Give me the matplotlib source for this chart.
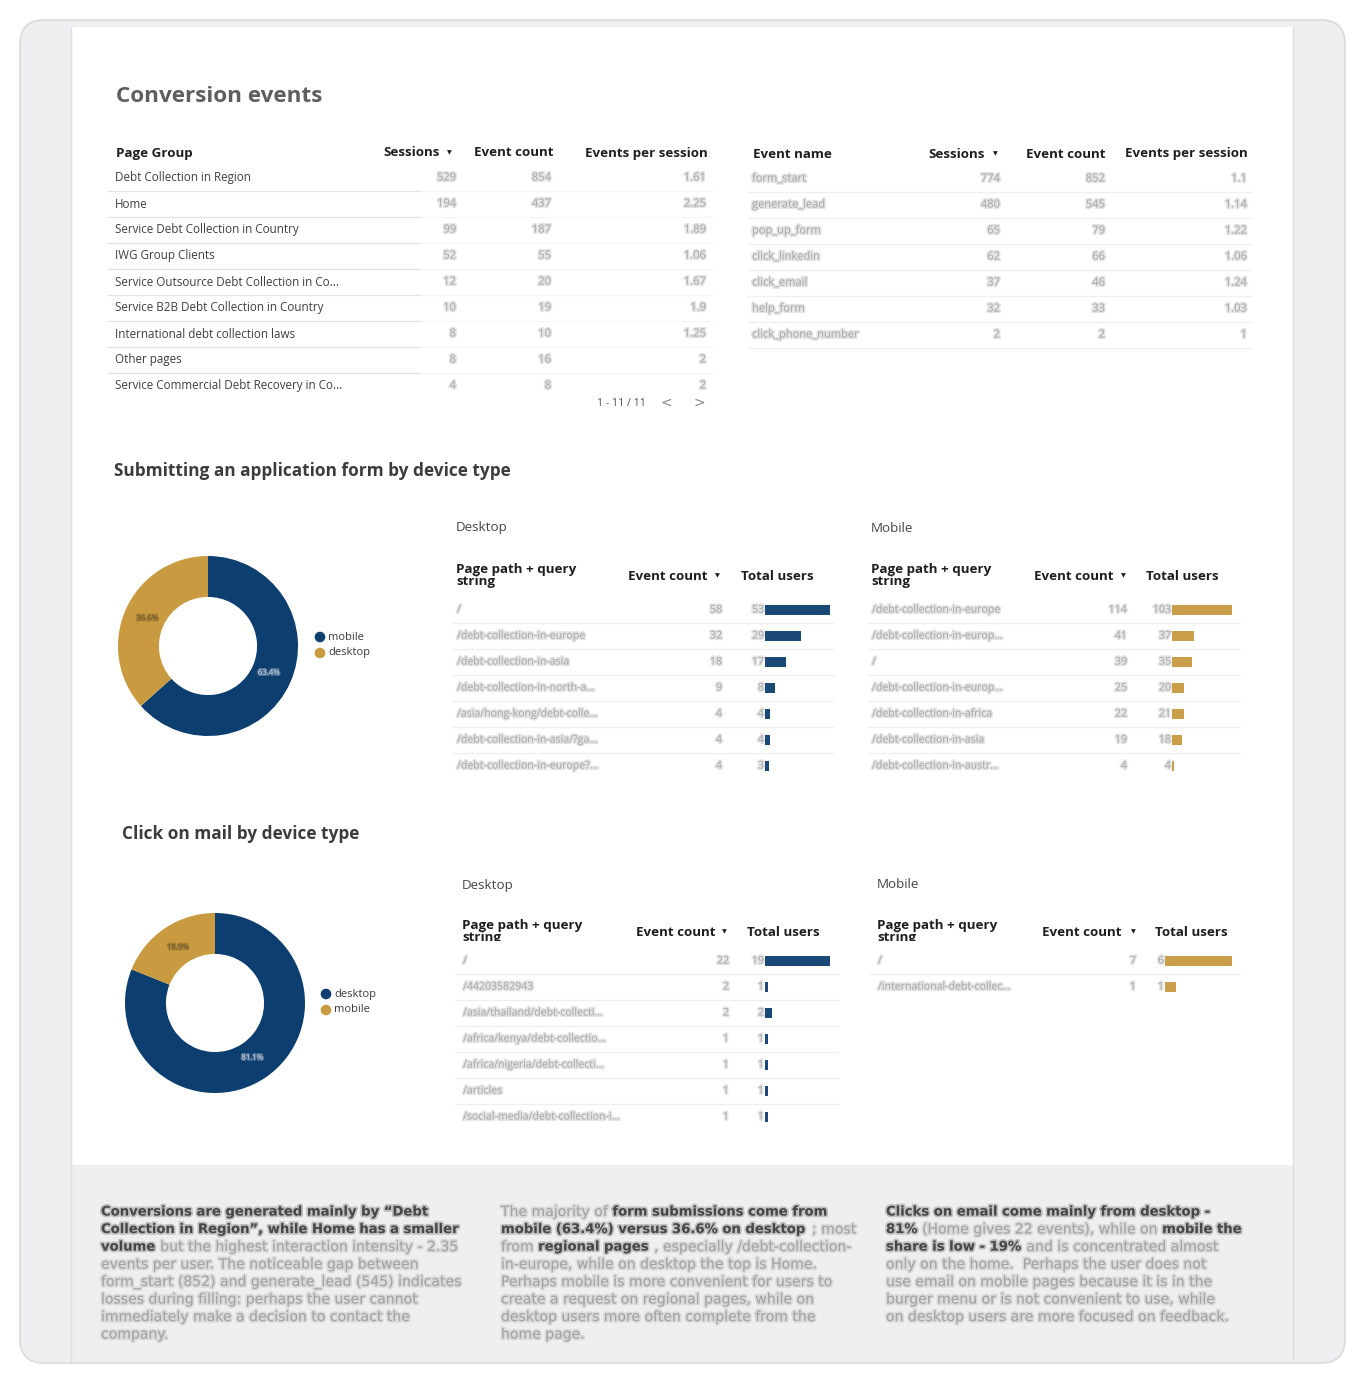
import matplotlib
matplotlib.use("Agg")
import matplotlib.pyplot as plt
from matplotlib.patches import FancyBboxPatch, Rectangle, Circle
import matplotlib.patheffects as pe
from matplotlib.transforms import Bbox

plt.rcParams['font.family'] = ['Open Sans', 'DejaVu Sans']

# ---------------- data ----------------
page_groups = ["Debt Collection in Region", "Home", "Service Debt Collection in Country",
               "IWG Group Clients", "Service Outsource Debt Collection in Co...",
               "Service B2B Debt Collection in Country", "International debt collection laws",
               "Other pages", "Service Commercial Debt Recovery in Co..."]
pg_sessions = [529, 194, 99, 52, 12, 10, 8, 8, 4]
pg_events = [854, 437, 187, 55, 20, 19, 10, 16, 8]
pg_eps = [1.61, 2.25, 1.89, 1.06, 1.67, 1.9, 1.25, 2, 2]

event_names = ["form_start", "generate_lead", "pop_up_form", "click_linkedin",
               "click_email", "help_form", "click_phone_number"]
ev_sessions = [774, 480, 65, 62, 37, 32, 2]
ev_events = [852, 545, 79, 66, 46, 33, 2]
ev_eps = [1.1, 1.14, 1.22, 1.06, 1.24, 1.03, 1]

form_device_labels = ["mobile", "desktop"]
form_device_share = [63.4, 36.6]
mail_device_labels = ["desktop", "mobile"]
mail_device_share = [81.1, 18.9]

form_desk_paths = ["/", "/debt-collection-in-europe", "/debt-collection-in-asia",
                   "/debt-collection-in-north-a...", "/asia/hong-kong/debt-colle...",
                   "/debt-collection-in-asia/?ga...", "/debt-collection-in-europe?..."]
form_desk_events = [58, 32, 18, 9, 4, 4, 4]
form_desk_users = [53, 29, 17, 8, 4, 4, 3]

form_mob_paths = ["/debt-collection-in-europe", "/debt-collection-in-europ...", "/",
                  "/debt-collection-in-europ...", "/debt-collection-in-africa",
                  "/debt-collection-in-asia", "/debt-collection-in-austr..."]
form_mob_events = [114, 41, 39, 25, 22, 19, 4]
form_mob_users = [103, 37, 35, 20, 21, 18, 4]

mail_desk_paths = ["/", "/44203582943", "/asia/thailand/debt-collecti...",
                   "/africa/kenya/debt-collectio...", "/africa/nigeria/debt-collecti...",
                   "/articles", "/social-media/debt-collection-i..."]
mail_desk_events = [22, 2, 2, 1, 1, 1, 1]
mail_desk_users = [19, 1, 2, 1, 1, 1, 1]

mail_mob_paths = ["/", "/international-debt-collec..."]
mail_mob_events = [7, 1]
mail_mob_users = [6, 1]

NAVY = "#0d3e70"
GOLD = "#c99a3f"

W, H = 1368, 1389
fig = plt.figure(figsize=(W / 100, H / 100), dpi=100)
ax = fig.add_axes([0, 0, 1, 1])
ax.set_xlim(0, W)
ax.set_ylim(H, 0)
ax.axis("off")
renderer = fig.canvas.get_renderer()

# ---------------- frame ----------------
ax.add_patch(FancyBboxPatch((20, 20), 1325, 1343, boxstyle="round,pad=0,rounding_size=24",
                            fc="#efeef1", ec="#dad9dd", lw=1.2, zorder=0))
ax.add_patch(Rectangle((72, 27), 1221, 1138, fc="white", ec="none", zorder=0.5))
ax.plot([71, 71], [27, 1362], color="#dedde1", lw=1, zorder=0.6)
ax.plot([1293, 1293], [27, 1362], color="#dedde1", lw=1, zorder=0.6)

HEAD = "#1e1e1e"
BODY = "#3f3f3f"
BLUR = "#ababab"
blur_fx = [pe.withStroke(linewidth=2.4, foreground="#c4c4c4", alpha=0.45)]


def txt(x, y, s, size, color=BODY, weight="normal", ha="left", fx=None, **kw):
    return ax.text(x, y, s, fontsize=size, color=color, fontweight=weight, ha=ha,
                   va="center", path_effects=fx, zorder=3, **kw)


def btxt(x, y, s, size=8.0, ha="left", color=BLUR):
    return txt(x, y, s, size, color=color, ha=ha, fx=blur_fx)


def hline(x0, x1, y, color="#e6e6e6", lw=0.9):
    ax.plot([x0, x1], [y, y], color=color, lw=lw, zorder=1)


def sort_tri(x, y):
    ax.text(x, y, "▼", fontsize=4.5, color=HEAD, ha="center", va="center",
            family="DejaVu Sans", zorder=3)


def fmt(v):
    return f"{v:g}"

# ---------------- title ----------------
txt(116, 97, "Conversion events", 16.2, color="#5e5e5e", weight="bold")

# ---------------- table 1 ----------------
HS = 9.6
txt(116, 153, "Page Group", HS, HEAD, "bold")
txt(440, 153, "Sessions", HS, HEAD, "bold", ha="right")
sort_tri(449, 153)
txt(553, 153, "Event count", HS, HEAD, "bold", ha="right")
txt(708, 153, "Events per session", HS, HEAD, "bold", ha="right")
for i, name in enumerate(page_groups):
    y = 178 + 26 * i
    txt(115, y, name, 8.4, BODY)
    btxt(456, y, str(pg_sessions[i]), ha="right")
    btxt(551, y, str(pg_events[i]), ha="right")
    btxt(706, y, fmt(pg_eps[i]), ha="right")
    if i < len(page_groups) - 1:
        hline(108, 421, y + 13, "#e2e2e2")
        hline(421, 712, y + 13, "#f6f6f6")
txt(621, 404, "1 - 11 / 11", 7.6, "#555555", ha="center")
txt(666, 403, "<", 10, "#8a8a8a", ha="center", family="DejaVu Sans")
txt(699, 403, ">", 10, "#8a8a8a", ha="center", family="DejaVu Sans")

# ---------------- table 2 ----------------
txt(753, 154, "Event name", HS, HEAD, "bold")
txt(985, 154, "Sessions", HS, HEAD, "bold", ha="right")
sort_tri(995, 154)
txt(1106, 154, "Event count", HS, HEAD, "bold", ha="right")
txt(1248, 154, "Events per session", HS, HEAD, "bold", ha="right")
for i, name in enumerate(event_names):
    y = 179 + 26 * i
    btxt(752, y, name)
    btxt(1000, y, str(ev_sessions[i]), ha="right")
    btxt(1105, y, str(ev_events[i]), ha="right")
    btxt(1247, y, fmt(ev_eps[i]), ha="right")
    hline(748, 1252, y + 13, "#efefef")

# ---------------- donuts ----------------

def donut(cx, cy, r, vals, labels, colors, label_colors, legend_x, legend_y):
    a = fig.add_axes([(cx - r) / W, (H - (cy + r)) / H, 2 * r / W, 2 * r / H])
    wedges, _t, autot = a.pie(vals, colors=colors, startangle=90, counterclock=False,
                              wedgeprops=dict(width=0.455, edgecolor="none"),
                              autopct=lambda p: f"{p:.1f}%", pctdistance=0.74,
                              textprops=dict(fontsize=5.6))
    for t, c in zip(autot, label_colors):
        t.set_color(c)
        t.set_path_effects([pe.withStroke(linewidth=1.8, foreground=c, alpha=0.3)])
    a.set_xlim(-1, 1)
    a.set_ylim(-1, 1)
    a.set_aspect("equal")
    a.axis("off")
    for j, lab in enumerate(labels):
        yy = legend_y + 16 * j
        ax.add_patch(Circle((legend_x, yy), 4.6, color=colors[j], zorder=3))
        txt(legend_x + 8, yy, lab, 8.0, "#3a3a3a")


# ---------------- small tables with bars ----------------

def bar_table(x_path, header_y, title_y, title, ec_right, tri_x, tu_left, rows_y,
              paths, events, users, color, bar_x0, bar_len, line_x0, line_x1,
              clip_bottom=None):
    txt(x_path, title_y, title, 9.6, "#454545")
    txt(x_path, header_y - 6.5, "Page path + query", HS, HEAD, "bold")
    t2 = txt(x_path, header_y + 6.0, "string", HS, HEAD, "bold")
    if clip_bottom is not None:
        # clip in display (pixel) coordinates: y_display = H - y
        cb = Bbox([[x_path - 5, H - clip_bottom], [x_path + 200, H - (header_y - 25)]])
        t2.set_clip_box(cb)
        t2.set_clip_on(True)
    txt(ec_right, header_y, "Event count", HS, HEAD, "bold", ha="right")
    sort_tri(tri_x, header_y)
    txt(tu_left, header_y, "Total users", HS, HEAD, "bold")
    n = len(paths)
    for i in range(n):
        y = rows_y + 26 * i
        btxt(x_path + 1, y, paths[i], size=7.6)
        btxt(ec_right + 14, y, str(events[i]), size=7.6, ha="right")
        btxt(bar_x0 - 1, y, str(users[i]), size=7.6, ha="right")
        if i < n - 1:
            hline(line_x0, line_x1, y + 13, "#eeeeee")
    # bars on their own axes
    top = rows_y - 13
    bottom = rows_y + 26 * (n - 1) + 13
    b = fig.add_axes([bar_x0 / W, (H - bottom) / H, bar_len / W, (bottom - top) / H])
    b.barh(range(n), users, height=0.42, color=color, alpha=0.95)
    b.set_xlim(0, max(users))
    b.set_ylim(n - 0.5, -0.5)
    b.axis("off")
    b.patch.set_alpha(0)


# section 2
txt(114, 471, "Submitting an application form by device type", 12.4, "#3c3c3c", "bold")
donut(208, 646, 90, form_device_share, form_device_labels, [NAVY, GOLD],
      ["#d0d6de", "#6a5428"], 320, 637)
bar_table(456, 576, 528, "Desktop", 708, 717, 741, 610, form_desk_paths, form_desk_events,
          form_desk_users, NAVY, 765, 65, 453, 833)
bar_table(871, 576, 528, "Mobile", 1113, 1123, 1146, 610, form_mob_paths, form_mob_events,
          form_mob_users, GOLD, 1172, 60, 868, 1240)

# section 3
txt(122, 834, "Click on mail by device type", 12.4, "#3c3c3c", "bold")
donut(215, 1003, 90, mail_device_share, mail_device_labels, [NAVY, GOLD],
      ["#d0d6de", "#6a5428"], 326, 994)
bar_table(462, 932, 885, "Desktop", 715, 724, 747, 961, mail_desk_paths, mail_desk_events,
          mail_desk_users, NAVY, 765, 65, 455, 838, clip_bottom=940.5)
bar_table(877, 932, 885, "Mobile", 1122, 1133, 1155, 961, mail_mob_paths, mail_mob_events,
          mail_mob_users, GOLD, 1165, 67, 870, 1240, clip_bottom=940.5)

# ---------------- bottom commentary ----------------
B, R = True, False
para1 = [
    [("Conversions are generated mainly by “Debt", B)],
    [("Collection in Region”, while Home has a smaller", B)],
    [("volume", B), (" but the highest interaction intensity - 2.35", R)],
    [("events per user. The noticeable gap between", R)],
    [("form_start (852) and generate_lead (545) indicates", R)],
    [("losses during filling: perhaps the user cannot", R)],
    [("immediately make a decision to contact the", R)],
    [("company.", R)],
]
para2 = [
    [("The majority of ", R), ("form submissions come from", B)],
    [("mobile (63.4%) versus 36.6% on desktop", B), (" ; most", R)],
    [("from ", R), ("regional pages", B), (" , especially /debt-collection-", R)],
    [("in-europe, while on desktop the top is Home.", R)],
    [("Perhaps mobile is more convenient for users to", R)],
    [("create a request on regional pages, while on", R)],
    [("desktop users more often complete from the", R)],
    [("home page.", R)],
]
para3 = [
    [("Clicks on email come mainly from desktop -", B)],
    [("81%", B), (" (Home gives 22 events), while on ", R), ("mobile the", B)],
    [("share is low - 19%", B), (" and is concentrated almost", R)],
    [("only on the home.  Perhaps the user does not", R)],
    [("use email on mobile pages because it is in the", R)],
    [("burger menu or is not convenient to use, while", R)],
    [("on desktop users are more focused on feedback.", R)],
]

PS_B = 9.5
PS_R = 10.1
PFAM = ["DejaVu Sans"]


def seg_width(s, bold):
    w8 = "bold" if bold else "normal"
    sz = PS_B if bold else PS_R
    t1 = ax.text(0, 0, "|" + s + "|", fontsize=sz, fontweight=w8, family=PFAM)
    t2 = ax.text(0, 0, "||", fontsize=sz, fontweight=w8, family=PFAM)
    w = t1.get_window_extent(renderer).width - t2.get_window_extent(renderer).width
    t1.remove()
    t2.remove()
    return w


def paragraph(x, y0, lines):
    for k, segs in enumerate(lines):
        y = y0 + 17.5 * k
        cx = x
        for s, bold in segs:
            col = "#474747" if bold else "#a3a3a3"
            fx = [pe.withStroke(linewidth=2.6, foreground=col, alpha=0.28)]
            ax.text(cx, y, s, fontsize=PS_B if bold else PS_R, color=col,
                    fontweight="bold" if bold else "normal",
                    family=PFAM, ha="left", va="center", path_effects=fx, zorder=3)
            cx += seg_width(s, bold)


paragraph(101, 1212, para1)
paragraph(501, 1212, para2)
paragraph(886, 1212, para3)

fig.savefig("out.png", dpi=100, facecolor="white")
